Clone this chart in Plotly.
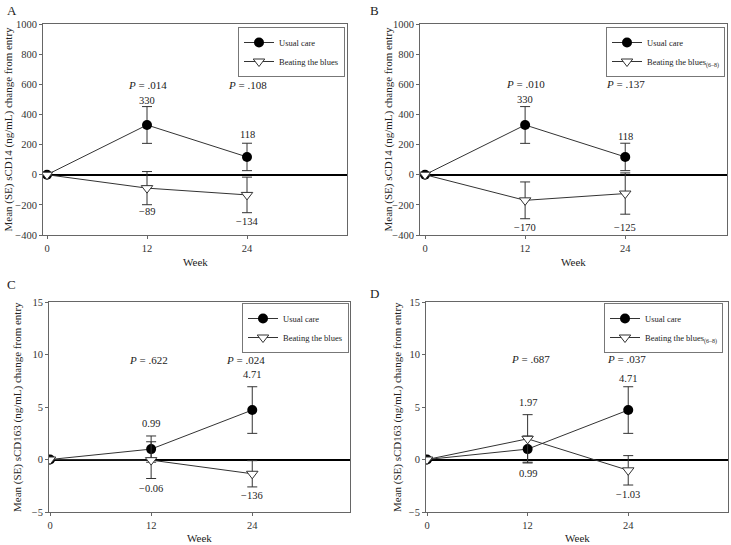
import plotly.graph_objects as go

# ---- data ----
weeks = [0, 12, 24]

# A / B : sCD14 (ng/mL)
usual_cd14 = [0, 330, 118]
usual_cd14_se = [None, 122, 91]
btb_cd14_a = [0, -89, -134]
btb_cd14_a_se = [None, 110, 118]
btb_cd14_b = [0, -170, -125]
btb_cd14_b_se = [None, 122, 137]

# C / D : sCD163 (ng/mL)
usual_cd163 = [0, 0.99, 4.71]
usual_cd163_se = [None, 1.25, 2.22]
btb_cd163_c = [0, -0.06, -1.36]
btb_cd163_c_se = [None, 1.75, 1.25]
btb_cd163_d = [0, 1.97, -1.03]
btb_cd163_d_se = [None, 2.3, 1.4]

usual_labels_cd14 = ["330", "118"]
btb_labels_a = ["\u221289", "\u2212134"]
btb_labels_b = ["\u2212170", "\u2212125"]
usual_labels_cd163 = ["0.99", "4.71"]
btb_labels_c = ["\u22120.06", "\u2212136"]
btb_labels_d = ["1.97", "\u22121.03"]

p_values = {
    "A": [".014", ".108"],
    "B": [".010", ".137"],
    "C": [".622", ".024"],
    "D": [".687", ".037"],
}

FONT = "Liberation Serif, Times New Roman, serif"
W, H = 731, 545

fig = go.Figure()


def px_x(p):
    return p / W


def px_y(p):
    return 1 - p / H


panels = [
    dict(name="A", ax="", xd=(43, 347), yd=(24, 235), xr=[-0.48, 36], yr=[-400, 1000], dt=200,
         uc=usual_cd14, uc_se=usual_cd14_se, bt=btb_cd14_a, bt_se=btb_cd14_a_se,
         btb_name="Beating the blues", leg=(238, 27), ytitle="Mean (SE) sCD14 (ng/mL) change from entry",
         ytx=8, letter=(5, 10), week_y=262,
         p_y=598, uc_lab=[(12, 495, usual_labels_cd14[0]), (24, 270, usual_labels_cd14[1])],
         bt_lab=[(12, -245, btb_labels_a[0]), (24, -312, btb_labels_a[1])], p_x=[12, 24]),
    dict(name="B", ax="2", xd=(420, 727), yd=(24, 235), xr=[-0.6, 36.2], yr=[-400, 1000], dt=200,
         uc=usual_cd14, uc_se=usual_cd14_se, bt=btb_cd14_b, bt_se=btb_cd14_b_se,
         btb_name="Beating the blues<sub>(6\u20138)</sub>", leg=(606, 27),
         ytitle="Mean (SE) sCD14 (ng/mL) change from entry",
         ytx=388, letter=(368, 10), week_y=262,
         p_y=603, uc_lab=[(12, 500, usual_labels_cd14[0]), (24, 255, usual_labels_cd14[1])],
         bt_lab=[(12, -350, btb_labels_b[0]), (24, -350, btb_labels_b[1])], p_x=[12, 24]),
    dict(name="C", ax="3", xd=(49, 350), yd=(302, 512), xr=[-0.12, 35.6], yr=[-5, 15], dt=5,
         uc=usual_cd163, uc_se=usual_cd163_se, bt=btb_cd163_c, bt_se=btb_cd163_c_se,
         btb_name="Beating the blues", leg=(242, 303),
         ytitle="Mean (SE) sCD163 (ng/mL) change from entry",
         ytx=17, letter=(5, 284), week_y=538,
         p_y=9.5, uc_lab=[(12, 3.45, usual_labels_cd163[0]), (24, 8.05, usual_labels_cd163[1])],
         bt_lab=[(12, -2.75, btb_labels_c[0]), (24, -3.4, btb_labels_c[1])], p_x=[11.7, 23.2]),
    dict(name="D", ax="4", xd=(426, 728), yd=(302, 512), xr=[-0.12, 35.9], yr=[-5, 15], dt=5,
         uc=usual_cd163, uc_se=usual_cd163_se, bt=btb_cd163_d, bt_se=btb_cd163_d_se,
         btb_name="Beating the blues<sub>(6\u20138)</sub>", leg=(604, 303),
         ytitle="Mean (SE) sCD163 (ng/mL) change from entry",
         ytx=397, letter=(368, 293), week_y=538,
         p_y=9.6, uc_lab=[(12, -1.3, usual_labels_cd163[0]), (24, 7.7, usual_labels_cd163[1])],
         bt_lab=[(12, 5.4, btb_labels_d[0]), (24, -3.33, btb_labels_d[1])], p_x=[12.3, 23.8]),
]

annotations = []
layout_axes = {}

for i, p in enumerate(panels):
    xa = "x" + p["ax"]
    ya = "y" + p["ax"]
    leg = "legend" if i == 0 else "legend%d" % (i + 1)

    fig.add_trace(go.Scatter(
        x=weeks, y=p["uc"], mode="lines+markers", name="Usual care",
        xaxis=xa, yaxis=ya, legend=leg,
        line=dict(color="#333333", width=1),
        marker=dict(symbol="circle", size=10, color="black"),
        error_y=dict(type="data", array=p["uc_se"], color="#333333", thickness=1, width=5),
    ))
    fig.add_trace(go.Scatter(
        x=weeks, y=p["bt"], mode="lines+markers", name=p["btb_name"],
        xaxis=xa, yaxis=ya, legend=leg,
        line=dict(color="#333333", width=1),
        marker=dict(symbol="triangle-down", size=10, color="white",
                    line=dict(color="#333333", width=1)),
        error_y=dict(type="data", array=p["bt_se"], color="#333333", thickness=1, width=5),
    ))

    xkey = "xaxis" + p["ax"]
    ykey = "yaxis" + p["ax"]
    layout_axes[xkey] = dict(
        domain=[px_x(p["xd"][0]), px_x(p["xd"][1])], anchor=ya, range=p["xr"],
        tickvals=[0, 12, 24], showgrid=False, zeroline=False, automargin=False,
        showline=True, linecolor="#666666", linewidth=1, mirror=True,
        ticks="outside", ticklen=3, tickcolor="#666666",
        tickfont=dict(family=FONT, size=10.5, color="#333333"),
    )
    layout_axes[ykey] = dict(
        domain=[px_y(p["yd"][1]), px_y(p["yd"][0])], anchor=xa, range=p["yr"],
        dtick=p["dt"], showgrid=False, automargin=False,
        zeroline=True, zerolinecolor="black", zerolinewidth=2,
        showline=True, linecolor="#666666", linewidth=1, mirror=True,
        ticks="outside", ticklen=3, tickcolor="#666666",
        tickfont=dict(family=FONT, size=10.5, color="#333333"),
    )
    layout_axes[leg] = dict(
        x=px_x(p["leg"][0]), y=px_y(p["leg"][1]), xanchor="left", yanchor="top",
        bordercolor="#777777", borderwidth=1, bgcolor="white",
        font=dict(family=FONT, size=8.5, color="#222222"),
        itemwidth=30, tracegroupgap=0,
    )

    annotations.append(dict(
        x=px_x(p["letter"][0]), y=px_y(p["letter"][1]), xref="paper", yref="paper",
        text=p["name"], showarrow=False, xanchor="left", yanchor="middle",
        font=dict(family=FONT, size=13, color="#222222"),
    ))
    annotations.append(dict(
        x=px_x(p["ytx"]), y=px_y((p["yd"][0] + p["yd"][1]) / 2), xref="paper", yref="paper",
        text=p["ytitle"], showarrow=False, textangle=-90, xanchor="center", yanchor="middle",
        font=dict(family=FONT, size=11, color="#222222"),
    ))
    annotations.append(dict(
        x=px_x((p["xd"][0] + p["xd"][1]) / 2), y=px_y(p["week_y"]), xref="paper", yref="paper",
        text="Week", showarrow=False, xanchor="center", yanchor="middle",
        font=dict(family=FONT, size=11, color="#222222"),
    ))
    for xv, pv in zip(p["p_x"], p_values[p["name"]]):
        annotations.append(dict(
            x=xv, y=p["p_y"], xref=xa, yref=ya, text="<i>P</i> = " + pv,
            showarrow=False, font=dict(family=FONT, size=11, color="#222222"),
        ))
    for xv, yv, t in p["uc_lab"] + p["bt_lab"]:
        annotations.append(dict(
            x=xv, y=yv, xref=xa, yref=ya, text=t, showarrow=False,
            font=dict(family=FONT, size=10.5, color="#222222"),
        ))

fig.update_layout(
    width=W, height=H,
    margin=dict(l=0, r=0, t=0, b=0, autoexpand=False),
    paper_bgcolor="white", plot_bgcolor="white",
    annotations=annotations,
    **layout_axes,
)

# the default page body has an 8px margin; drop it so the figure fills the window
fig.write_html("out.html", config={"displayModeBar": False},
               post_script="document.body.style.margin='0';")
